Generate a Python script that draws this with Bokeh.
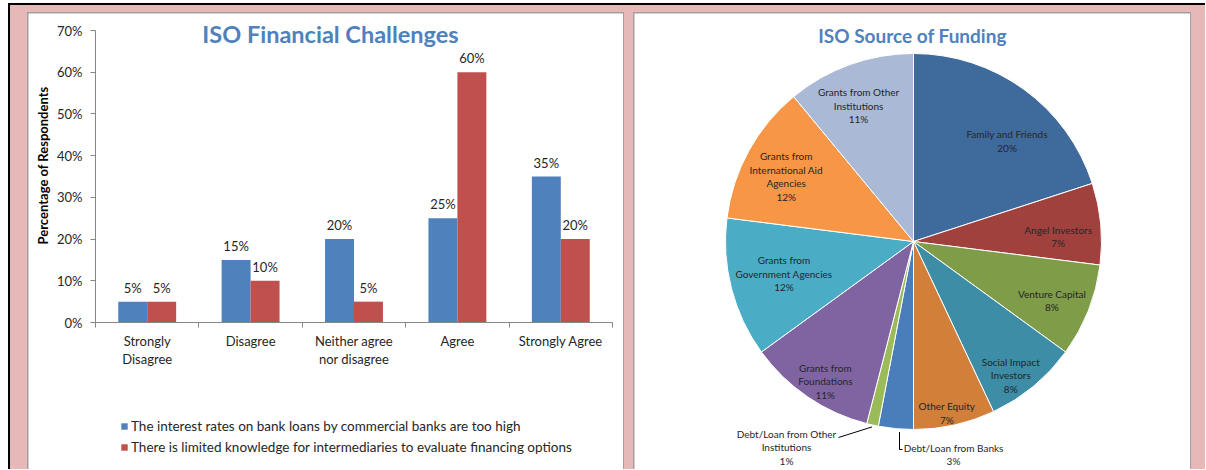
import math
from bokeh.plotting import figure
from bokeh.models import (ColumnDataSource, Range1d, LinearAxis,
                          FixedTicker, PrintfTickFormatter, Legend, LegendItem, Label, Spacer,
                          Row, Column)
from bokeh.transform import dodge
from bokeh.core.properties import value
from bokeh.embed import file_html
from bokeh.resources import INLINE

# ---------------- data: ISO Financial Challenges ----------------
categories = ["Strongly Disagree", "Disagree", "Neither agree nor disagree", "Agree", "Strongly Agree"]
tick_labels = ["Strongly\nDisagree", "Disagree", "Neither agree\nnor disagree", "Agree", "Strongly Agree"]
rates_too_high = [5, 15, 20, 25, 35]
limited_knowledge = [5, 10, 5, 60, 20]
series_names = ["The interest rates on bank loans by commercial banks are too high",
                "There is limited knowledge for intermediaries to evaluate financing options"]
y_ticks = [0, 10, 20, 30, 40, 50, 60, 70]

# ---------------- data: ISO Source of Funding ----------------
funding_sources = ["Family and Friends", "Angel Investors", "Venture Capital",
                   "Social Impact Investors", "Other Equity", "Debt/Loan from Banks",
                   "Debt/Loan from Other Institutions", "Grants from Foundations",
                   "Grants from Government Agencies", "Grants from International Aid Agencies",
                   "Grants from Other Institutions"]
funding_share = [20, 7, 8, 8, 7, 3, 1, 11, 12, 12, 11]
funding_label_text = ["Family and Friends", "Angel Investors", "Venture Capital",
                      "Social Impact\nInvestors", "Other Equity", "Debt/Loan from Banks",
                      "Debt/Loan from Other\nInstitutions", "Grants from\nFoundations",
                      "Grants from\nGovernment Agencies", "Grants from\nInternational Aid\nAgencies",
                      "Grants from Other\nInstitutions"]

# ---------------- styles ----------------
FONT = "Lato"
BLUE = "#4F81BD"
RED = "#C0504D"
TITLE_BLUE = "#4F81BD"
AXIS = "#868686"
TXT = "#262626"
PINK = "#E6B8B7"
FRAME = "#A0A0A0"
slice_colors = ["#3F6A9C", "#A0413E", "#7F9C48", "#3C8DA5", "#D17F39", "#4A7EBB",
                "#9BBB59", "#8064A2", "#4BACC6", "#F79646", "#A9B9D6"]
# label placement inside slices: radial fraction and angular nudge (degrees)
label_frac = [0.73, 0.77, 0.80, 0.88, 0.93, None, None, 0.88, 0.71, 0.76, 0.78]
label_dang = [7.0, 3.4, 1.4, 3.6, 1.6, 0, 0, -2.0, 0.4, -1.8, -2.2]
PIE_R = 188

# ================= bar chart =================
n_cat = len(categories)
centers = [i + 0.5 for i in range(n_cat)]
bounds = [float(i) for i in range(n_cat + 1)]
src = ColumnDataSource(dict(
    xc=centers, a=rates_too_high, b=limited_knowledge,
    la=[f"{v}%" for v in rates_too_high], lb=[f"{v}%" for v in limited_knowledge]))

PX_CAT = 103.4        # pixels per category
PX_PCT = 292 / 70.0   # pixels per percentage point
x_start = -67 / PX_CAT
x_end = n_cat + 11 / PX_CAT
y_start = -147 / PX_PCT
y_end = 70 + 17 / PX_PCT

p = figure(width=595, height=456, x_range=Range1d(x_start, x_end), y_range=Range1d(y_start, y_end),
           x_axis_location=None, y_axis_location=None, toolbar_location=None,
           output_backend="svg", min_border=0, outline_line_color=None,
           border_fill_color="white", background_fill_color="white", margin=(1, 1, 0, 1))
p.grid.grid_line_color = None

bw = 0.28
ra = p.vbar(x=dodge("xc", -bw / 2), top="a", width=bw, source=src,
            fill_color=BLUE, line_color=None)
rb = p.vbar(x=dodge("xc", bw / 2), top="b", width=bw, source=src,
            fill_color=RED, line_color=None)
for col, lab, off in (("a", "la", -bw / 2), ("b", "lb", bw / 2)):
    p.text(x=dodge("xc", off), y=col, text=lab, source=src,
           text_align="center", text_baseline="middle", y_offset=-14,
           text_font=value(FONT), text_font_size="13px", text_color=TXT)

yaxis = LinearAxis(fixed_location=0, bounds=(0, 70),
                   ticker=FixedTicker(ticks=y_ticks), formatter=PrintfTickFormatter(format="%d%%"),
                   major_label_text_font=FONT, major_label_text_font_size="13px",
                   major_label_text_color=TXT, major_label_standoff=8,
                   axis_line_color=AXIS, major_tick_line_color=AXIS, major_tick_out=5,
                   major_tick_in=0, minor_tick_line_color=None)
p.add_layout(yaxis, "left")

xaxis = LinearAxis(fixed_location=0, bounds=(0, n_cat),
                   ticker=FixedTicker(ticks=centers, minor_ticks=bounds),
                   major_label_overrides=dict(zip(centers, tick_labels)),
                   axis_line_color=AXIS, major_tick_line_color=None, major_tick_out=0,
                   major_tick_in=0, minor_tick_line_color=AXIS, minor_tick_out=5,
                   minor_tick_in=0, major_label_standoff=5,
                   major_label_text_font=FONT, major_label_text_font_size="13px",
                   major_label_text_color=TXT, major_label_text_line_height=1.15)
p.add_layout(xaxis, "below")

legend = Legend(items=[LegendItem(label=series_names[0], renderers=[ra]),
                       LegendItem(label=series_names[1], renderers=[rb])],
                location=(92, 14), orientation="vertical", glyph_width=8, glyph_height=8,
                label_standoff=3, spacing=5, padding=0, margin=0, label_height=16,
                border_line_color=None, background_fill_alpha=0,
                label_text_font=FONT, label_text_font_size="13.5px", label_text_color=TXT)
p.add_layout(legend)

# y-axis title, placed as in the original (left of the tick labels)
p.add_layout(Label(x=-53 / PX_CAT, y=157 / PX_PCT, angle=math.pi / 2,
                   text="Percentage of Respondents", text_align="center",
                   text_baseline="middle", text_font=FONT, text_font_style="bold",
                   text_font_size="13px", text_color="#000000"))

p.add_layout(Label(x=235 / PX_CAT, y=289 / PX_PCT, text="ISO Financial Challenges",
                   text_align="center", text_baseline="middle", text_font=FONT,
                   text_font_style="bold", text_font_size="23.5px", text_color=TITLE_BLUE))

# ================= pie chart =================
total = float(sum(funding_share))
starts, ends, mids = [], [], []
cum = 0.0
for v in funding_share:
    t0 = cum / total * 2 * math.pi
    cum += v
    t1 = cum / total * 2 * math.pi
    starts.append(math.pi / 2 - t1)
    ends.append(math.pi / 2 - t0)
    mids.append((t0 + t1) / 2)

psrc = ColumnDataSource(dict(src=funding_sources, share=funding_share, start=starts, end=ends,
                             color=slice_colors))

q = figure(width=556, height=456, x_range=Range1d(-279, 277), y_range=Range1d(-228, 228),
           toolbar_location=None, output_backend="svg", min_border=0,
           x_axis_location=None, y_axis_location=None, outline_line_color=None,
           border_fill_color="white", background_fill_color="white", margin=(1, 1, 0, 1))
q.grid.grid_line_color = None
q.wedge(x=0, y=0, radius=PIE_R, start_angle="start", end_angle="end", direction="anticlock",
        fill_color="color", line_color="white", line_width=1, source=psrc)

lx, ly, lt = [], [], []
for i, v in enumerate(funding_share):
    if label_frac[i] is None:
        continue
    th = mids[i] + math.radians(label_dang[i])
    r = PIE_R * label_frac[i]
    lx.append(r * math.sin(th))
    ly.append(r * math.cos(th))
    lt.append(f"{funding_label_text[i]}\n{v}%")
q.text(x=lx, y=ly, text=lt, text_align="center", text_baseline="middle",
       text_font=value(FONT), text_font_size="10px", text_line_height=1.12, text_color=TXT)

# outside labels with leader lines (Debt/Loan from Banks, Debt/Loan from Other Institutions)
i_bank = funding_sources.index("Debt/Loan from Banks")
i_oth = funding_sources.index("Debt/Loan from Other Institutions")
ax_b = (PIE_R + 3) * math.sin(mids[i_bank] - math.radians(1.2))
ay_b = (PIE_R + 3) * math.cos(mids[i_bank] - math.radians(1.2))
ax_o = (PIE_R + 2) * math.sin(mids[i_oth])
ay_o = (PIE_R + 2) * math.cos(mids[i_oth])
q.line(x=[ax_b, ax_b, ax_b + 3], y=[ay_b, -208, -208], line_color="#000000", line_width=1)
q.line(x=[ax_o, -75], y=[ay_o, -196], line_color="#000000", line_width=1)
q.text(x=[40, -127], y=[-213, -206],
       text=[f"{funding_label_text[i_bank]}\n{funding_share[i_bank]}%",
             f"{funding_label_text[i_oth]}\n{funding_share[i_oth]}%"],
       text_align="center", text_baseline="middle", text_font=value(FONT),
       text_font_size="10px", text_line_height=1.12, text_color=TXT)

q.add_layout(Label(x=-1, y=206, text="ISO Source of Funding", text_align="center",
                   text_baseline="middle", text_font=FONT, text_font_style="bold",
                   text_font_size="19px", text_color=TITLE_BLUE))

# ================= page layout =================
def block(w, h, color):
    return Column(children=[Spacer(width=w, height=h)], styles={"background-color": color})

left_panel = Column(children=[p], styles={"background-color": FRAME}, margin=(7, 0, 0, 17))
right_panel = Column(children=[q], styles={"background-color": FRAME}, margin=(7, 14, 0, 9))
pink_row = Row(children=[block(2, 464, "#000000"), left_panel, right_panel], spacing=0,
               styles={"background-color": PINK})
page = Column(children=[Spacer(width=1197, height=3), block(1197, 2, "#000000"), pink_row],
              spacing=0)
root = Row(children=[Spacer(width=8, height=469), page], spacing=0)

open("out.html", "w").write(file_html(root, INLINE))
